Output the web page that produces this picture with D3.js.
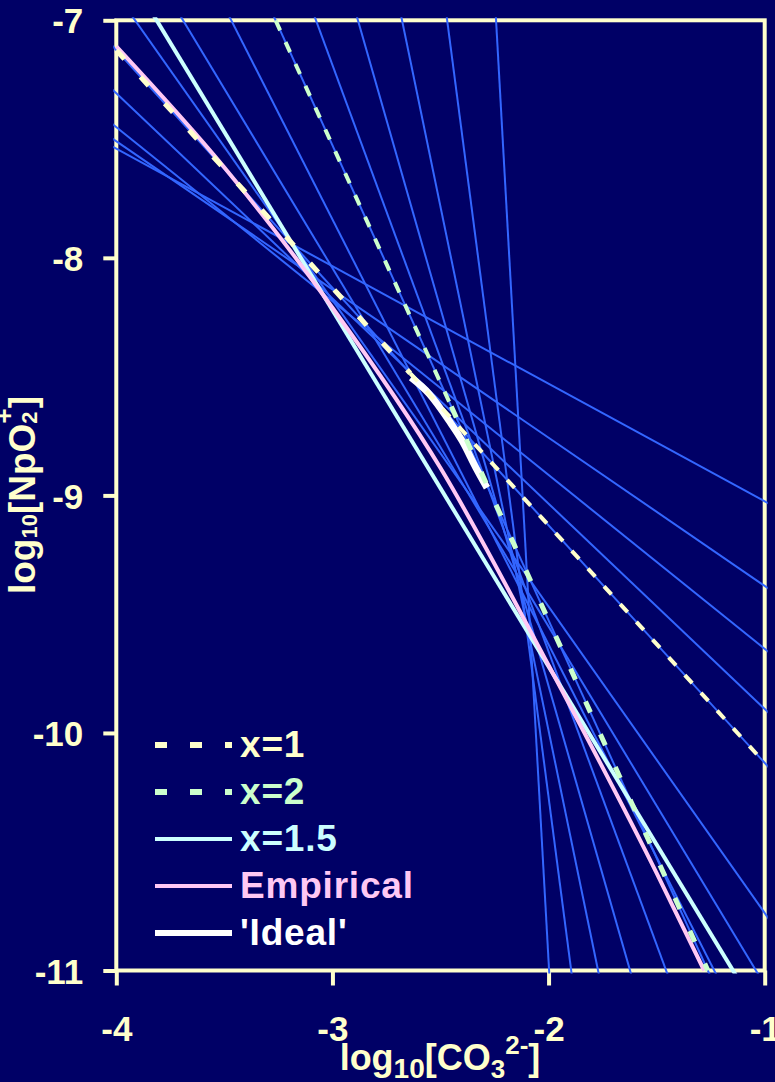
<!DOCTYPE html>
<html>
<head>
<meta charset="utf-8">
<script src="https://cdn.jsdelivr.net/npm/d3@7"></script>
<style>
  html, body { margin: 0; padding: 0; background: #000066; }
  svg { display: block; }
  text { font-family: "Liberation Sans", Arial, sans-serif; font-weight: bold; }
</style>
</head>
<body>
<svg id="chart" width="775" height="1082"></svg>
<script>
// ---- data -------------------------------------------------------------
const xTicks = [-4, -3, -2, -1];
const yTicks = [-7, -8, -9, -10, -11];

// family of straight solubility lines: slope and value at log10[CO3] = 0
const familySlopes     = [-0.495, -0.624, -0.732, -0.864, -1.0, -1.29, -1.509, -1.79, -2.0, -2.469, -3.177, -4.41, -6.97, -16.3];
const familyIntercepts = [-9.52, -10.005, -10.378, -10.763, -11.126, -12.048, -12.570, -13.208, -13.526, -14.595, -16.156, -18.81, -24.21, -43.56];

// model lines (slope = -x)
const x1Slope = -1.0,  x1Intercept = -11.126;
const x2Slope = -2.0,  x2Intercept = -13.526;
const x15Slope = -1.5, x15Intercept = -12.72;

// empirical curve
const empiricalX = [-4.0, -3.5, -3.0, -2.5, -2.0, -1.5, -1.28];
const empiricalY = [-7.11, -7.62, -8.21, -8.885, -9.715, -10.59, -11.0];

// 'ideal' curve
const idealX = [-2.636, -2.553, -2.460, -2.400, -2.336, -2.285];
const idealY = [-8.504, -8.572, -8.686, -8.770, -8.884, -8.968];

const legendLabels = ["x=1", "x=2", "x=1.5", "Empirical", "'Ideal'"];

// ---- layout -----------------------------------------------------------
const svg = d3.select("#chart");
const W = 775, H = 1082;
svg.append("rect").attr("width", W).attr("height", H).attr("fill", "#000066");

const mLeft = 116.3, mRight = 764.7, mTop = 20.3, mBottom = 970.5;
const x = d3.scaleLinear().domain([-4, -1]).range([mLeft, mRight]);
const y = d3.scaleLinear().domain([-11, -7]).range([mBottom, mTop]);

const frameColor = "#ffffcc";
const blue = "#3366ff", yellow = "#ffffcc", green = "#ccffcc",
      cyan = "#ccffff", pink = "#ffc8f4", white = "#ffffff";

// frame and ticks
svg.append("rect")
  .attr("x", mLeft).attr("y", mTop)
  .attr("width", mRight - mLeft).attr("height", mBottom - mTop)
  .attr("fill", "none").attr("stroke", frameColor).attr("stroke-width", 4);

const fmt = d => String(d);
const yAxis = d3.axisLeft(y).tickValues(yTicks).tickSize(13).tickFormat(fmt);
const xAxis = d3.axisBottom(x).tickValues(xTicks).tickSize(15).tickFormat(fmt);

const gy = svg.append("g").attr("transform", `translate(${mLeft},0)`).call(yAxis);
const gx = svg.append("g").attr("transform", `translate(0,${mBottom})`).call(xAxis);
[gy, gx].forEach(g => {
  g.select(".domain").remove();
  g.selectAll(".tick line").attr("stroke", frameColor).attr("stroke-width", 4);
  g.selectAll(".tick text")
    .attr("fill", frameColor)
    .style("font-size", "35px")
    .style("font-family", "'Liberation Sans', Arial, sans-serif")
    .style("font-weight", "bold");
});
gy.selectAll(".tick text").attr("x", -33).attr("dy", "0.36em");
gx.selectAll(".tick text").attr("dy", null).attr("y", 70);

// clip for plotted marks
svg.append("clipPath").attr("id", "plotClip")
  .append("rect").attr("x", mLeft - 3).attr("y", mTop - 3)
  .attr("width", mRight - mLeft + 6).attr("height", mBottom - mTop + 6);
const plot = svg.append("g").attr("clip-path", "url(#plotClip)");

const straight = (s, a) => d3.line()([[x(-4.2), y(a + s * -4.2)], [x(-0.8), y(a + s * -0.8)]]);

// family of blue lines
plot.append("g").selectAll("path")
  .data(d3.zip(familySlopes, familyIntercepts))
  .join("path")
  .attr("d", d => straight(d[0], d[1]))
  .attr("fill", "none").attr("stroke", blue).attr("stroke-width", 2);

// x=1.5 model line
plot.append("path").attr("d", straight(x15Slope, x15Intercept))
  .attr("fill", "none").attr("stroke", cyan).attr("stroke-width", 4);

// empirical curve
const curve = d3.line().x(d => x(d[0])).y(d => y(d[1])).curve(d3.curveMonotoneX);
plot.append("path").attr("d", curve(d3.zip(empiricalX, empiricalY)))
  .attr("fill", "none").attr("stroke", pink).attr("stroke-width", 4);

// ideal curve
plot.append("path").attr("d", curve(d3.zip(idealX, idealY)))
  .attr("fill", "none").attr("stroke", white).attr("stroke-width", 7);

// dashed model lines
const seg = (s, a, x0, x1) => d3.line()([[x(x0), y(a + s * x0)], [x(x1), y(a + s * x1)]]);
plot.append("path").attr("d", seg(x1Slope, x1Intercept, -4.0, -2.64))
  .attr("fill", "none").attr("stroke", yellow).attr("stroke-width", 5).attr("stroke-dasharray", "12,24");
plot.append("path").attr("d", seg(x1Slope, x1Intercept, -2.64, -1.0))
  .attr("fill", "none").attr("stroke", yellow).attr("stroke-width", 4).attr("stroke-dasharray", "11,13");
plot.append("path").attr("d", seg(x2Slope, x2Intercept, -3.263, -2.45))
  .attr("fill", "none").attr("stroke", green).attr("stroke-width", 4).attr("stroke-dasharray", "11,13");
plot.append("path").attr("d", seg(x2Slope, x2Intercept, -2.45, -1.263))
  .attr("fill", "none").attr("stroke", green).attr("stroke-width", 5).attr("stroke-dasharray", "12,24");

// legend
const legendColors = [yellow, green, cyan, pink, white];
const legendDash = ["12,23", "12,23", null, null, null];
const legendWidth = [6, 6, 4, 4, 6];
const lg = svg.append("g");
legendLabels.forEach((lab, i) => {
  const by = 757 + i * 47;
  lg.append("line").attr("x1", 155).attr("x2", 232)
    .attr("y1", by - 12).attr("y2", by - 12)
    .attr("stroke", legendColors[i]).attr("stroke-width", legendWidth[i])
    .attr("stroke-dasharray", legendDash[i]);
  lg.append("text").attr("x", 240).attr("y", by)
    .attr("fill", legendColors[i]).style("font-size", "37px")
    .style("letter-spacing", "0.8px").text(lab);
});

// axis titles
const xt = svg.append("text").attr("x", 440).attr("y", 1070)
  .attr("text-anchor", "middle").attr("fill", frameColor).style("font-size", "36px");
xt.append("tspan").text("log");
xt.append("tspan").attr("dy", 8).style("font-size", "28px").text("10");
xt.append("tspan").attr("dy", -8).text("[CO");
xt.append("tspan").attr("dy", 8).style("font-size", "26px").text("3");
xt.append("tspan").attr("dy", -24).style("font-size", "26px").text("2-");
xt.append("tspan").attr("dy", 16).text("]");

const yt = svg.append("text")
  .attr("transform", "translate(35,495) rotate(-90)")
  .attr("text-anchor", "middle").attr("fill", frameColor).style("font-size", "37px");
yt.append("tspan").text("log");
yt.append("tspan").attr("dy", 2).style("font-size", "22px").text("10");
yt.append("tspan").attr("dy", -2).text("[NpO");
yt.append("tspan").attr("dy", 2).style("font-size", "22px").text("2");
yt.append("tspan").attr("dy", -24).attr("dx", -12).style("font-size", "26px").text("+");
yt.append("tspan").attr("dy", 22).text("]");
</script>
</body>
</html>
